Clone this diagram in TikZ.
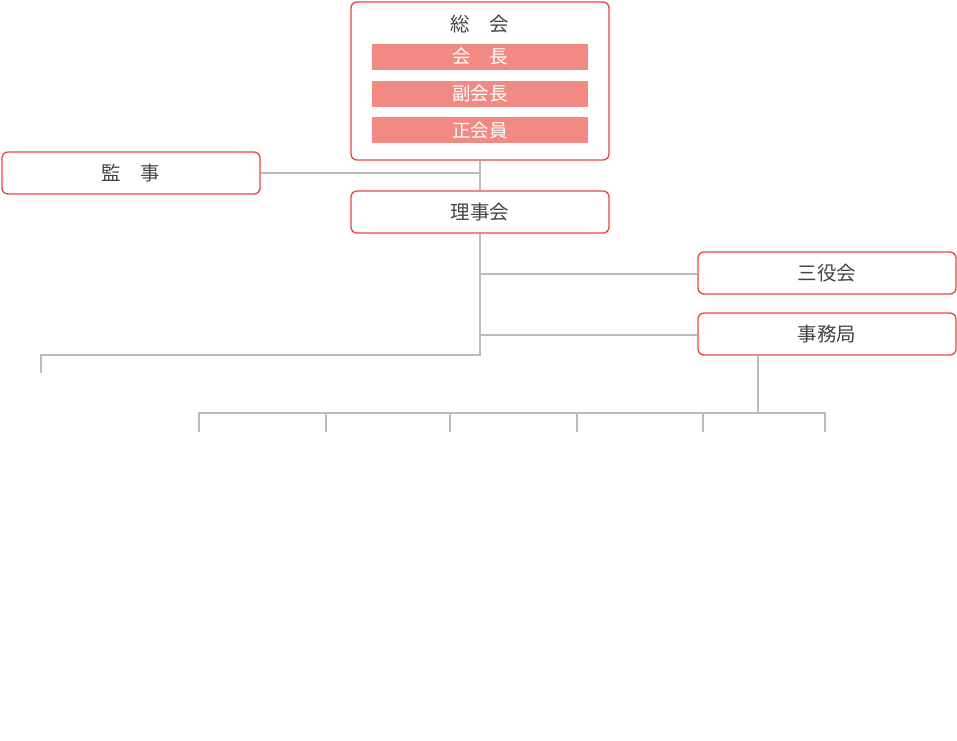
\documentclass[tikz,border=0pt]{standalone}
\usepackage{fontspec}
\newfontfamily\jp{Noto Sans CJK JP}
\definecolor{boxred}{HTML}{E8463C}
\definecolor{barpink}{HTML}{F08A82}
\definecolor{linegray}{HTML}{BBBBBB}
\definecolor{txt}{HTML}{444444}
\begin{document}
\begin{tikzpicture}[x=1pt,y=-1pt,
  orgbox/.style={draw=boxred,line width=1.3pt,rounded corners=6pt,minimum width=258pt,minimum height=42pt,inner sep=0pt,text=txt,font=\jp\fontsize{19.5}{22}\selectfont},
  bigbox/.style={draw=boxred,line width=1.3pt,rounded corners=6pt,minimum width=258pt,minimum height=158pt,inner sep=0pt},
  pinkbar/.style={fill=barpink,minimum width=216pt,minimum height=26pt,inner sep=0pt,text=white,font=\jp\fontsize{18.5}{21}\selectfont},
  title/.style={text=txt,font=\jp\fontsize{19.5}{22}\selectfont,inner sep=0pt},
  conn/.style={draw=linegray,line width=1.6pt}]
\useasboundingbox (0,0) rectangle (957,740);
% boxes
\node[bigbox] (soukai) at (480,81) {};
\node[title] (soukaiT) at (480,24) {総　会};
\node[pinkbar] (kaichou) at (480,57) {会　長};
\node[pinkbar] (fuku) at (480,94) {副会長};
\node[pinkbar] (sei) at (480,130) {正会員};
\node[orgbox] (kansa) at (131,173) {監　事};
\node[orgbox] (riji) at (480,212) {理事会};
\node[orgbox] (sanyaku) at (827,273) {三役会};
\node[orgbox] (jimu) at (827,334) {事務局};
% coordinates
\coordinate (j1) at (480,173);
\coordinate (j2) at (480,274);
\coordinate (j3) at (480,335);
\coordinate (j4) at (480,355);
\coordinate (l1) at (41,355);
\coordinate (l2) at (41,373);
\coordinate (jd) at (758,413);
\coordinate (h1) at (199,413);
\coordinate (h6) at (825,413);
\coordinate (d1) at (199,432);
\coordinate (d2) at (326,432);
\coordinate (d3) at (450,432);
\coordinate (d4) at (577,432);
\coordinate (d5) at (703,432);
\coordinate (d6) at (825,432);
% connectors
\draw[conn] (soukai.south) -- (riji.north);
\draw[conn] (kansa.east) -- (j1);
\draw[conn] (riji.south) -- (j4) -- (l1) -- (l2);
\draw[conn] (j2) -- (j2 -| sanyaku.west);
\draw[conn] (j3) -- (j3 -| jimu.west);
\draw[conn] (jimu.south -| jd) -- (jd);
\draw[conn] (d1) -- (h1) -- (h6) -- (d6);
\draw[conn] (d2) -- (d2 |- h1);
\draw[conn] (d3) -- (d3 |- h1);
\draw[conn] (d4) -- (d4 |- h1);
\draw[conn] (d5) -- (d5 |- h1);
\end{tikzpicture}
\end{document}
